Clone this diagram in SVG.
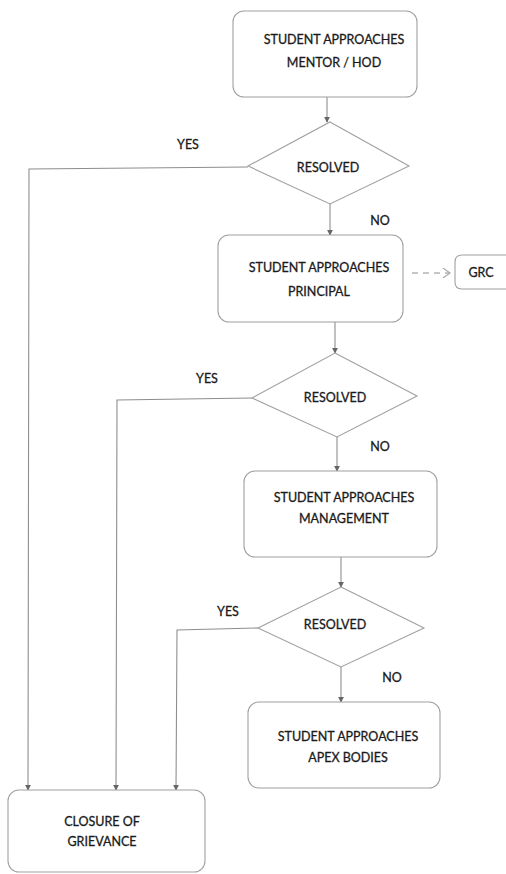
<svg xmlns="http://www.w3.org/2000/svg" width="506" height="874" viewBox="0 0 506 874">
<defs>
<style>
.box{fill:#fff;stroke:#a0a0a0;stroke-width:1.1}
.t{font-family:Lato,"Open Sans","Liberation Sans",sans-serif;font-size:12.5px;fill:#1a1a1a;stroke:#1a1a1a;stroke-width:0.3;text-anchor:middle}
.c{fill:none;stroke:#8e8e8e;stroke-width:1.1}
</style>
<marker id="ah" viewBox="0 0 8 8" refX="7" refY="4" markerWidth="6" markerHeight="6" orient="auto" markerUnits="userSpaceOnUse">
<path d="M0,0 L8,4 L0,8 z" fill="#666"/>
</marker>
<marker id="oh" viewBox="0 0 10 10" refX="9" refY="5" markerWidth="10" markerHeight="10" orient="auto" markerUnits="userSpaceOnUse">
<path d="M2,0 L9,5 L2,10" fill="none" stroke="#aaa" stroke-width="1.2"/>
</marker>
</defs>
<rect width="506" height="874" fill="#fff"/>
<g id="connectors">
<line class="c" x1="327" y1="97" x2="327" y2="122" marker-end="url(#ah)"/>
<line class="c" x1="330" y1="204" x2="330" y2="235" marker-end="url(#ah)"/>
<line class="c" x1="335" y1="322" x2="335" y2="353" marker-end="url(#ah)"/>
<line class="c" x1="337" y1="437" x2="337" y2="471" marker-end="url(#ah)"/>
<line class="c" x1="341" y1="557" x2="341" y2="587" marker-end="url(#ah)"/>
<line class="c" x1="341" y1="667" x2="341" y2="702" marker-end="url(#ah)"/>
<polyline class="c" points="248,167 29,169 28,790" marker-end="url(#ah)"/>
<polyline class="c" points="252,398 117,400 116,790" marker-end="url(#ah)"/>
<polyline class="c" points="258,628 177,630 176,790" marker-end="url(#ah)"/>
<line class="c" x1="412" y1="273" x2="450" y2="273" stroke="#b0b0b0" stroke-dasharray="6,5" marker-end="url(#oh)"/>
</g>
<g id="n1">
<rect class="box" x="233" y="11" width="184" height="86" rx="11"/>
<text class="t" x="334" y="44">STUDENT APPROACHES</text>
<text class="t" x="334" y="67">MENTOR / HOD</text>
</g>
<g id="d1">
<polygon class="box" points="330,122 409,166 330,204 248,166"/>
<text class="t" x="328" y="172">RESOLVED</text>
</g>
<g id="n2">
<rect class="box" x="218" y="235" width="185" height="87" rx="11"/>
<text class="t" x="319" y="272">STUDENT APPROACHES</text>
<text class="t" x="319" y="296">PRINCIPAL</text>
</g>
<g id="grc">
<path class="box" d="M512,255 L462,255 Q455,255 455,262 L455,282 Q455,289 462,289 L512,289"/>
<text class="t" x="481" y="277">GRC</text>
</g>
<g id="d2">
<polygon class="box" points="335,353 417,396 337,437 252,398"/>
<text class="t" x="335" y="402">RESOLVED</text>
</g>
<g id="n3">
<rect class="box" x="244" y="471" width="193" height="86" rx="11"/>
<text class="t" x="344" y="502">STUDENT APPROACHES</text>
<text class="t" x="344" y="523">MANAGEMENT</text>
</g>
<g id="d3">
<polygon class="box" points="341,587 424,628 341,667 258,628"/>
<text class="t" x="335" y="629">RESOLVED</text>
</g>
<g id="n4">
<rect class="box" x="248" y="702" width="192" height="86" rx="11"/>
<text class="t" x="348" y="741">STUDENT APPROACHES</text>
<text class="t" x="348" y="762">APEX BODIES</text>
</g>
<g id="n5">
<rect class="box" x="8" y="790" width="197" height="82" rx="11"/>
<text class="t" x="102" y="826">CLOSURE OF</text>
<text class="t" x="102" y="846">GRIEVANCE</text>
</g>
<g id="labels">
<text class="t" x="188" y="149">YES</text>
<text class="t" x="380" y="225">NO</text>
<text class="t" x="207" y="383">YES</text>
<text class="t" x="380" y="451">NO</text>
<text class="t" x="228" y="616">YES</text>
<text class="t" x="392" y="682">NO</text>
</g>
</svg>
